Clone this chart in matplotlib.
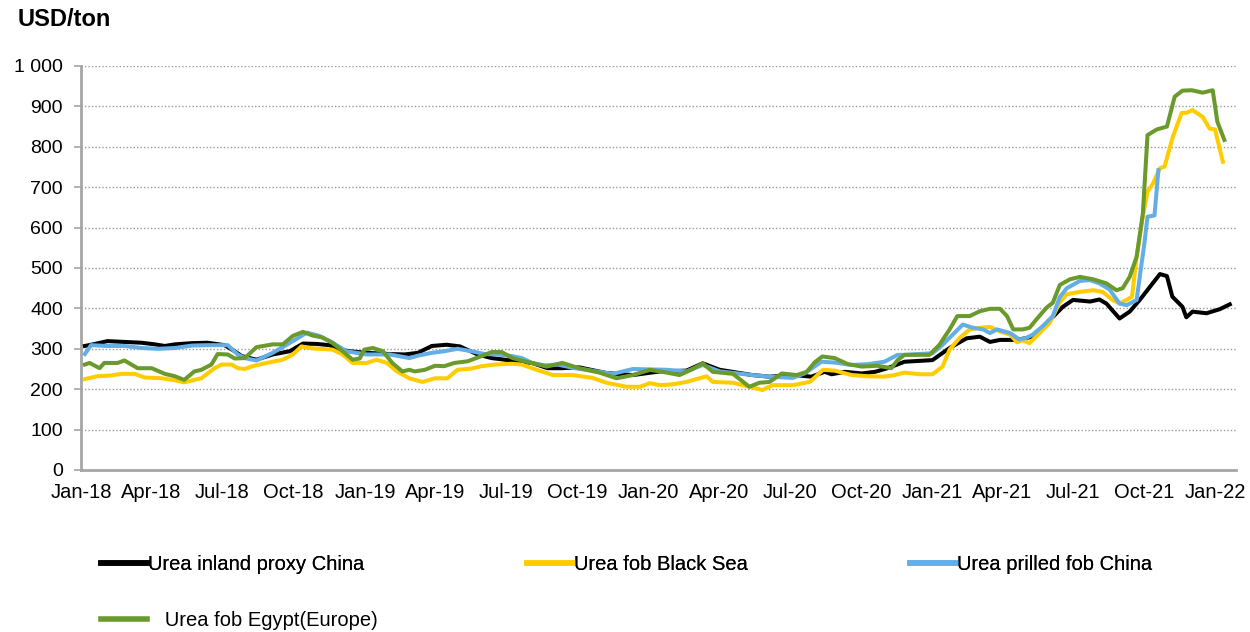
import matplotlib
matplotlib.use("Agg")
import matplotlib.pyplot as plt
import matplotlib.dates as mdates
from matplotlib.ticker import FuncFormatter, MultipleLocator
import pandas as pd
import numpy as np

plt.rcParams['font.family'] = ['Liberation Sans', 'DejaVu Sans']

# ---------------- data ----------------
black_dates = ["2018-01-05","2018-01-18","2018-02-03","2018-02-25","2018-03-19","2018-04-05","2018-04-18",
    "2018-05-01","2018-05-23","2018-06-12","2018-07-04","2018-07-17","2018-07-26","2018-08-14","2018-09-04",
    "2018-09-26","2018-10-13","2018-10-31","2018-11-16","2018-11-29","2018-12-12","2019-01-03","2019-02-02",
    "2019-02-21","2019-03-10","2019-03-28","2019-04-16","2019-05-03","2019-05-26","2019-06-13","2019-06-30",
    "2019-07-19","2019-08-04","2019-08-24","2019-09-11","2019-10-04","2019-11-08","2019-12-12","2020-01-16",
    "2020-02-19","2020-03-11","2020-04-02","2020-05-14","2020-06-05","2020-07-07","2020-07-29","2020-08-15",
    "2020-08-24","2020-09-10","2020-10-02","2020-10-19","2020-11-04","2020-11-26","2021-01-01","2021-01-23",
    "2021-02-14","2021-03-03","2021-03-16","2021-03-29","2021-04-20","2021-05-10","2021-06-01","2021-06-18",
    "2021-07-01","2021-07-23","2021-08-04","2021-08-13","2021-08-30","2021-09-12","2021-09-25","2021-10-21",
    "2021-10-30","2021-11-06","2021-11-19","2021-11-24","2021-12-02","2021-12-20","2022-01-06","2022-01-19"]
black_values = [307, 312, 319, 317, 315, 311, 307,
    311, 314, 315, 309, 294, 282, 273, 286,
    294, 313, 312, 309, 298, 294, 290, 287,
    286, 290, 307, 310, 306, 286, 277, 273,
    268, 265, 252, 252, 254, 240, 235, 244,
    246, 264, 248, 235, 231, 235, 231, 243,
    237, 243, 239, 243, 252, 268, 272, 302,
    326, 330, 317, 322, 322, 330, 371, 404,
    421, 417, 422, 412, 375, 392, 421, 485,
    480, 429, 404, 378, 392, 388, 398, 410]

yellow_dates = ["2018-01-05","2018-01-21","2018-02-08","2018-02-21","2018-03-10","2018-03-23","2018-04-14",
    "2018-05-01","2018-05-13","2018-05-26","2018-06-04","2018-06-21","2018-06-30","2018-07-13","2018-07-21",
    "2018-07-30","2018-08-09","2018-08-27","2018-09-17","2018-09-30","2018-10-11","2018-10-25","2018-11-20",
    "2018-12-03","2018-12-16","2019-01-03","2019-01-16","2019-01-29","2019-02-11","2019-02-27","2019-03-16",
    "2019-04-01","2019-04-17","2019-04-30","2019-05-18","2019-05-31","2019-06-17","2019-07-09","2019-07-22",
    "2019-08-10","2019-08-31","2019-09-25","2019-10-21","2019-11-08","2019-12-04","2019-12-21","2020-01-03",
    "2020-01-16","2020-02-01","2020-02-19","2020-03-16","2020-03-24","2020-04-19","2020-05-10","2020-05-27",
    "2020-06-09","2020-07-05","2020-07-27","2020-08-13","2020-08-28","2020-09-19","2020-10-10","2020-10-31",
    "2020-11-13","2020-11-26","2020-12-16","2021-01-01","2021-01-14","2021-01-23","2021-02-05","2021-02-18",
    "2021-03-03","2021-03-16","2021-03-29","2021-04-11","2021-04-20","2021-04-27","2021-05-06","2021-05-19",
    "2021-06-01","2021-06-14","2021-06-23","2021-07-10","2021-07-27","2021-08-08","2021-08-21","2021-08-30",
    "2021-09-08","2021-09-15","2021-09-21","2021-09-29","2021-10-05","2021-10-12","2021-10-21","2021-10-27",
    "2021-11-06","2021-11-18","2021-11-24","2021-12-02","2021-12-15","2021-12-24","2021-12-31","2022-01-10"]
yellow_values = [225, 232, 234, 238, 238, 229, 227,
    222, 217, 223, 227, 252, 261, 261, 252,
    250, 257, 265, 273, 286, 306, 301, 298,
    286, 265, 265, 273, 265, 244, 227, 218,
    227, 227, 248, 251, 257, 261, 263, 261,
    248, 235, 235, 228, 216, 206, 206, 215,
    210, 212, 218, 232, 218, 216, 206, 198,
    210, 210, 218, 248, 246, 235, 232, 231,
    235, 241, 237, 237, 256, 298, 327, 348,
    352, 354, 343, 335, 316, 321, 314, 339,
    364, 415, 435, 441, 445, 441, 421, 412,
    421, 429, 528, 627, 689, 709, 747, 751,
    821, 884, 884, 891, 874, 845, 843, 763]

blue_dates = ["2018-01-05","2018-01-13","2018-02-03","2018-02-25","2018-03-19","2018-04-09","2018-05-01",
    "2018-05-23","2018-06-12","2018-07-08","2018-07-21","2018-07-30","2018-08-14","2018-09-04","2018-09-30",
    "2018-10-18","2018-11-03","2018-11-20","2018-12-08","2019-01-03","2019-02-02","2019-02-27","2019-03-10",
    "2019-03-28","2019-04-13","2019-04-30","2019-05-18","2019-06-04","2019-06-21","2019-07-09","2019-07-22",
    "2019-08-04","2019-08-20","2019-09-06","2019-09-28","2019-10-13","2019-11-16","2019-12-12","2020-01-25",
    "2020-02-19","2020-03-11","2020-04-02","2020-05-14","2020-06-05","2020-07-05","2020-07-20","2020-08-11",
    "2020-08-28","2020-09-19","2020-10-10","2020-10-31","2020-11-17","2020-11-26","2021-01-01","2021-01-14",
    "2021-01-27","2021-02-09","2021-02-22","2021-03-07","2021-03-16","2021-03-25","2021-04-11","2021-04-23",
    "2021-05-02","2021-05-10","2021-05-23","2021-06-05","2021-06-14","2021-06-23","2021-07-10","2021-07-23",
    "2021-08-04","2021-08-17","2021-08-30","2021-09-08","2021-09-21","2021-09-25","2021-10-01","2021-10-05",
    "2021-10-14","2021-10-19"]
blue_values = [287, 309, 307, 307, 302, 300, 302,
    308, 309, 309, 286, 277, 271, 290, 319,
    340, 332, 315, 294, 286, 286, 277, 283,
    290, 294, 300, 294, 287, 286, 282, 277,
    265, 259, 261, 252, 248, 238, 250, 248,
    244, 260, 244, 235, 231, 228, 239, 268,
    266, 260, 262, 268, 285, 285, 289, 310,
    335, 360, 352, 348, 339, 348, 339, 323,
    327, 335, 356, 381, 428, 450, 468, 470,
    462, 447, 412, 408, 421, 478, 561, 627,
    630, 742]

green_dates = ["2018-01-05","2018-01-11","2018-01-24","2018-01-30","2018-02-16","2018-02-25","2018-03-14",
    "2018-04-01","2018-04-18","2018-05-01","2018-05-13","2018-05-26","2018-06-04","2018-06-17","2018-06-25",
    "2018-07-08","2018-07-17","2018-07-30","2018-08-14","2018-09-04","2018-09-17","2018-09-30","2018-10-13",
    "2018-10-25","2018-11-07","2018-11-20","2018-12-03","2018-12-16","2018-12-25","2018-12-31","2019-01-11",
    "2019-01-24","2019-02-05","2019-02-18","2019-02-27","2019-03-06","2019-03-19","2019-04-01","2019-04-13",
    "2019-04-26","2019-05-13","2019-05-31","2019-06-13","2019-06-26","2019-07-10","2019-07-28","2019-08-23",
    "2019-09-12","2019-10-04","2019-10-30","2019-11-21","2019-12-12","2020-01-03","2020-01-25","2020-02-10",
    "2020-02-27","2020-03-11","2020-03-24","2020-04-19","2020-05-10","2020-05-23","2020-06-05","2020-06-21",
    "2020-07-10","2020-07-23","2020-08-02","2020-08-12","2020-08-28","2020-09-14","2020-10-02","2020-10-22",
    "2020-11-09","2020-11-17","2020-11-26","2020-12-02","2020-12-28","2021-01-10","2021-01-23","2021-02-02",
    "2021-02-18","2021-03-03","2021-03-16","2021-03-29","2021-04-07","2021-04-15","2021-04-27","2021-05-06",
    "2021-05-15","2021-05-28","2021-06-05","2021-06-14","2021-06-27","2021-07-10","2021-07-27","2021-08-13",
    "2021-08-26","2021-09-03","2021-09-12","2021-09-21","2021-09-29","2021-10-05","2021-10-17","2021-10-30",
    "2021-11-09","2021-11-19","2021-12-01","2021-12-15","2021-12-28","2022-01-03","2022-01-12"]
green_values = [261, 265, 252, 265, 265, 271, 252,
    252, 238, 232, 223, 244, 248, 261, 287,
    286, 276, 277, 304, 311, 311, 332, 342,
    333, 328, 315, 294, 273, 276, 298, 302,
    294, 265, 244, 248, 244, 248, 258, 257,
    265, 269, 282, 292, 292, 277, 268, 256,
    265, 252, 241, 227, 235, 248, 241, 235,
    250, 264, 243, 238, 206, 216, 218, 239,
    235, 243, 266, 281, 277, 262, 256, 258,
    252, 272, 285, 285, 285, 310, 348, 381,
    381, 393, 399, 399, 381, 348, 348, 352,
    373, 402, 414, 458, 472, 478, 472, 462,
    445, 450, 478, 528, 635, 829, 843, 850,
    924, 939, 940, 934, 940, 862, 817]

series_names = ["Urea inland proxy China", "Urea fob Black Sea", "Urea prilled fob China", "Urea fob Egypt(Europe)"]
tick_dates = pd.date_range("2018-01-01", "2022-01-01", freq="QS")

# ---------------- figure ----------------
fig = plt.figure(figsize=(12.5, 6.32), dpi=100)
ax = fig.add_axes([81/1250, 1 - 470/632, (1236 - 81)/1250, (470 - 66)/632])

c_black = "#000000"
c_yellow = "#FFCC00"
c_blue = "#63AEE6"
c_green = "#6A9A2C"
lw = 2.9

l1, = ax.plot(pd.to_datetime(black_dates), black_values, color=c_black, lw=lw, solid_joinstyle="round", zorder=3)
l2, = ax.plot(pd.to_datetime(yellow_dates), yellow_values, color=c_yellow, lw=lw, solid_joinstyle="round", zorder=4)
l3, = ax.plot(pd.to_datetime(blue_dates), blue_values, color=c_blue, lw=lw, solid_joinstyle="round", zorder=5)
l4, = ax.plot(pd.to_datetime(green_dates), green_values, color=c_green, lw=lw, solid_joinstyle="round", zorder=6)

ax.set_ylim(0, 1000)
ax.set_xlim(pd.Timestamp("2017-12-31"), pd.Timestamp("2022-01-27"))
ax.yaxis.set_major_locator(MultipleLocator(100))
ax.yaxis.set_major_formatter(FuncFormatter(lambda v, p: f"{int(v):,}".replace(",", " ")))
ax.set_xticks(tick_dates)
ax.xaxis.set_major_formatter(mdates.DateFormatter("%b-%y"))

ax.grid(axis="y", linestyle=(0, (1, 1.5)), color="#9a9a9a", lw=1.0)
ax.set_axisbelow(True)
for s in ["top", "right"]:
    ax.spines[s].set_visible(False)
for s in ["left", "bottom"]:
    ax.spines[s].set_color("#a6a6a6")
    ax.spines[s].set_linewidth(2.0)

ax.tick_params(axis="y", length=5, width=1.2, color="#a6a6a6", pad=8, labelsize=14, labelcolor="#000000")
ax.tick_params(axis="x", length=0, pad=9, labelsize=14.5, labelcolor="#000000")

fig.text(18/1250, 1 - 19/632, "USD/ton", fontsize=17, fontweight="bold", ha="left", va="center")

leg1 = fig.legend([l1, l2, l3], series_names[:3], loc="center left",
                  bbox_to_anchor=(101/1250, 1 - 565/632), ncol=3, frameon=False,
                  fontsize=14.5, handlelength=2.3, handletextpad=0.05, columnspacing=8.05,
                  borderaxespad=0, borderpad=0)
for h in leg1.get_lines():
    h.set_linewidth(4)
leg2 = fig.legend([l4], ["   " + series_names[3]], loc="center left",
                  bbox_to_anchor=(101/1250, 1 - 621/632), frameon=False,
                  fontsize=14.5, handlelength=2.3, handletextpad=0.05,
                  borderaxespad=0, borderpad=0)
for h in leg2.get_lines():
    h.set_linewidth(4)
fig.add_artist(leg1)

fig.savefig("out.png", dpi=100)
